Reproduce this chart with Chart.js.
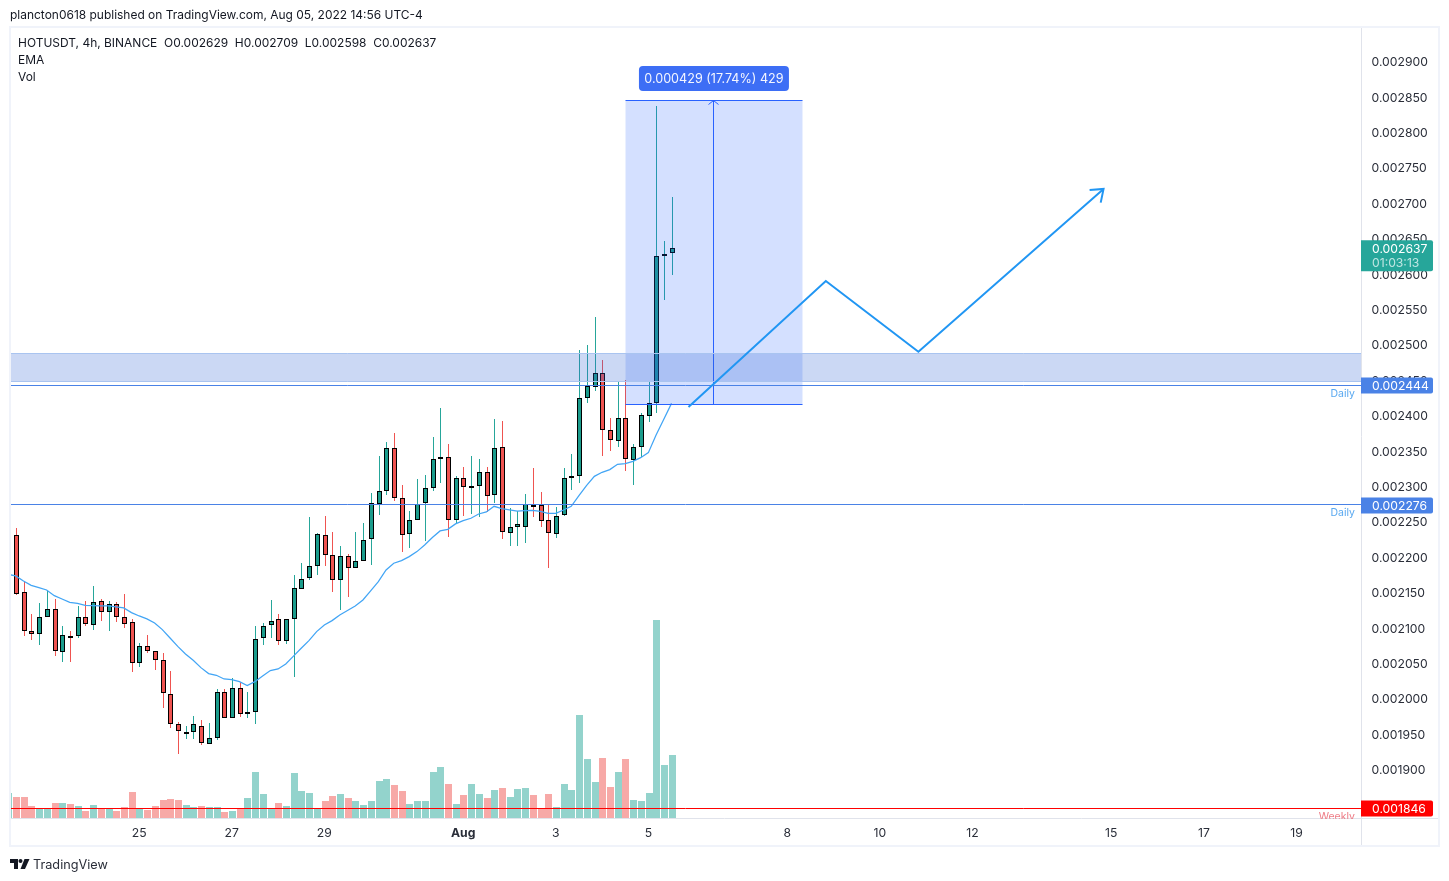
<!DOCTYPE html>
<html><head><meta charset="utf-8">
<script src="https://cdn.jsdelivr.net/npm/chart.js@4"></script>
<style>
html,body{margin:0;padding:0;background:#fff;width:1449px;height:881px;overflow:hidden}
#c{position:absolute;left:0;top:0}
.t{position:absolute;font-family:Inter,sans-serif;color:#131722;white-space:pre;line-height:16px}
#frame{position:absolute;left:9px;top:26px;width:1431px;height:821px;box-sizing:border-box;border:2px solid #f0f3fa;pointer-events:none}
</style></head><body>
<canvas id="c" width="1449" height="881"></canvas>
<div id="frame"></div>
<div class="t" style="left:10px;top:7px;font-size:11.97px">plancton0618 published on TradingView.com, Aug 05, 2022 14:56 UTC-4</div>
<div class="t" style="left:18px;top:34.5px;font-size:11.97px">HOTUSDT, 4h, BINANCE  O0.002629  H0.002709  L0.002598  C0.002637</div>
<div class="t" style="left:18px;top:51.5px;font-size:11.97px">EMA</div>
<div class="t" style="left:18px;top:68.5px;font-size:11.97px">Vol</div>
<svg style="position:absolute;left:10px;top:859px" width="20" height="11" viewBox="0 0 20 11"><path d="M0 0H8V10H4V4H0Z" fill="#131722"/><circle cx="10.5" cy="2" r="2" fill="#131722"/><path d="M14.5 0H19.5L15 10H10.5Z" fill="#131722"/></svg>
<div class="t" style="left:33px;top:857px;font-size:12.7px;color:#2a2e39">TradingView</div>
<script>
// Prices are in millionths of USDT (2637 = 0.002637). Index 0 is the partly visible first bar.
const opens  = [2187,2231,2150,2095,2092,2116,2126,2066,2088,2088,2116,2104,2138,2123,2133,2116,2108,2050,2074,2067,2054,2006,1964,1952,1953,1961,1936,1945,2010,1972,2015,1980,1981,2085,2104,2112,2081,2112,2155,2171,2188,2231,2203,2167,2201,2184,2195,2225,2275,2294,2354,2284,2232,2253,2276,2297,2338,2341,2253,2311,2300,2301,2320,2287,2355,2234,2243,2243,2273,2273,2252,2232,2260,2311,2315,2424,2440,2460,2379,2364,2397,2337,2355,2399,2417,2625,2629];
const highs  = [2231,2241,2166,2120,2135,2152,2141,2103,2096,2131,2138,2159,2141,2138,2137,2148,2112,2078,2090,2068,2065,2039,1967,1962,1976,1970,1966,2013,2013,2029,2024,2009,2102,2107,2139,2119,2112,2174,2191,2257,2234,2258,2236,2216,2205,2236,2248,2291,2343,2363,2375,2302,2265,2310,2316,2370,2411,2360,2315,2327,2343,2339,2327,2395,2392,2269,2265,2289,2326,2292,2275,2271,2326,2346,2493,2500,2539,2478,2396,2449,2450,2360,2403,2449,2837,2647,2709];
const lows   = [2187,2147,2089,2083,2076,2116,2060,2052,2052,2086,2103,2097,2110,2096,2108,2100,2038,2045,2065,2041,1987,1959,1922,1943,1943,1935,1936,1942,1972,1972,1974,1973,1964,2076,2086,2076,2077,2030,2155,2168,2175,2187,2151,2125,2144,2184,2195,2189,2260,2288,2279,2207,2213,2253,2223,2293,2305,2228,2246,2258,2261,2257,2263,2276,2226,2216,2216,2220,2257,2243,2185,2227,2258,2295,2305,2418,2435,2343,2350,2356,2322,2302,2341,2391,2404,2563,2598];
const closes = [2231,2148,2095,2092,2116,2126,2067,2090,2087,2116,2105,2136,2123,2133,2116,2106,2051,2074,2067,2054,2008,1964,1954,1953,1964,1938,1945,2009,1972,2015,1979,1981,2084,2102,2109,2081,2112,2156,2169,2188,2232,2203,2167,2201,2184,2195,2224,2276,2294,2354,2284,2231,2253,2275,2297,2338,2341,2253,2311,2299,2301,2320,2286,2354,2235,2243,2246,2275,2270,2251,2234,2258,2311,2314,2424,2441,2460,2379,2365,2396,2338,2355,2400,2417,2625,2628,2637];
const volumes = [25,21,21,12,9,9,15,15,14,12,7,13,10,10,7,11,26,10,8,12,18,19,18,13,11,12,11,11,6,7,10,20,46,24,10,15,12,45,27,25,10,17,22,24,20,17,13,17,37,39,33,27,14,17,17,46,51,34,14,23,34,24,20,28,30,21,29,30,23,10,24,11,34,28,103,59,36,60,31,46,59,18,17,25,198,53,63];
const ema = [2175.6,2173.3,2166.2,2160.1,2156.8,2153.5,2145.5,2140.8,2136.1,2134.7,2131.9,2131.4,2130.9,2130.9,2129.5,2128.1,2121.5,2116.8,2112.6,2106.9,2097.5,2085.7,2073.9,2063.1,2054.2,2043.8,2035.4,2033,2027.8,2026.8,2024,2018.4,2024,2032,2039.6,2041.9,2049,2060,2071.2,2082,2094.7,2104.1,2110.2,2118.2,2124.4,2130.9,2139.4,2152.1,2165.3,2181.8,2191.2,2195,2200.6,2207.7,2217.1,2227.5,2236.9,2239.2,2246.8,2251.5,2254.8,2260.8,2263.7,2271.7,2268.4,2266.5,2265,2265.6,2266,2264.6,2261.8,2261.8,2266.5,2271.7,2286.7,2301.3,2314,2319.7,2323.5,2331,2331.9,2335.2,2340.4,2347.5,2372.4,2394.6,2417.1];
const firstBar = -1;
const xTickValues = [16,28,40,58,70,82,100,112,124,142,154,166];
const xTickLabels = ['25','27','29','Aug','3','5','8','10','12','15','17','19'];
const handX = [87.2,105,117,141];
const handY = [2412,2590,2490,2720];
const zoneBand = [2448,2488];
const positionBox = {x:[79,102], y:[2415.5,2845], arrowX:90.5, text:'0.000429 (17.74%) 429'};
const levels = [
 {v:2443,text:'0.002444',tag:'#4a82e6',line:'#4a82e6',name:'Daily',nameColor:'#5aa9f0'},
 {v:2274,text:'0.002276',tag:'#4a82e6',line:'#4a82e6',name:'Daily',nameColor:'#5aa9f0'},
 {v:1845,text:'0.001846',tag:'#ff0000',line:'#ff0000',name:'Weekly',nameColor:'#ee7b85'}
];
const lastPrice = {v:2637,text:'0.002637',sub:'01:03:13'};
const hiddenTicks = [1850];

const UP='#26a69a', UPBODY='#1b9c8c', DN='#ef5350';
const isUp = i => closes[i]>=opens[i];
const xs = opens.map((_,i)=>i+firstBar);
const FONT='Inter, sans-serif';

const snap = {
 id:'snap',
 afterDatasetsUpdate(chart){
  chart.data.datasets.forEach((ds,di)=>{
   if((ds.type||'bar')!=='bar')return;
   chart.getDatasetMeta(di).data.forEach(el=>{
    el.x=Math.floor(el.x+.7)+.5;
    el.y=Math.round(el.y); el.base=Math.round(el.base);
    if(ds.label==='Vol'){el.y-=1;el.base-=1;}
    if(ds.label==='Body'&&Math.abs(el.base-el.y)<2){el.y=Math.min(el.y,el.base);el.base=el.y+2;}
   });
  });
 }
};
const crisp=v=>Math.round(v-.5)+.5;
const overlay = {
 id:'overlay',
 beforeDraw(chart){
  const c=chart.ctx,a=chart.chartArea;
  c.save();c.strokeStyle='#e0e3eb';c.lineWidth=1;c.beginPath();
  c.moveTo(a.right+.5,a.top);c.lineTo(a.right+.5,846);
  c.moveTo(10,a.bottom-.5);c.lineTo(1439,a.bottom-.5);c.stroke();c.restore();
 },
 afterDatasetDraw(chart,args){
  if(chart.data.datasets[args.index].label!=='EMA')return;
  const c=chart.ctx,a=chart.chartArea,X=chart.scales.x,Y=chart.scales.y;
  c.save();c.beginPath();c.rect(a.left,a.top,a.width,a.height);c.clip();
  const bl=crisp(X.getPixelForValue(positionBox.x[0])),br=crisp(X.getPixelForValue(positionBox.x[1]));
  const bt=crisp(Y.getPixelForValue(positionBox.y[1])),bb=crisp(Y.getPixelForValue(positionBox.y[0]));
  c.fillStyle='rgba(41,98,255,0.2)';c.fillRect(bl,bt,br-bl,bb-bt);
  c.strokeStyle='#2962ff';c.lineWidth=1;c.beginPath();
  c.moveTo(bl,bt);c.lineTo(br,bt);c.moveTo(bl,bb);c.lineTo(br,bb);
  const ax=crisp(X.getPixelForValue(positionBox.arrowX));
  c.moveTo(ax,bb);c.lineTo(ax,bt);c.stroke();
  c.beginPath();c.moveTo(ax-5,bt+4);c.lineTo(ax,bt);c.lineTo(ax+5,bt+4);c.stroke();
  const zt=crisp(Y.getPixelForValue(zoneBand[1])),zb=crisp(Y.getPixelForValue(zoneBand[0]));
  c.fillStyle='rgba(48,100,210,0.25)';c.fillRect(a.left,zt,a.width,zb-zt);
  c.strokeStyle='#a9c4f0';c.beginPath();c.moveTo(a.left,zt);c.lineTo(a.right,zt);c.moveTo(a.left,zb);c.lineTo(a.right,zb);c.stroke();
  levels.forEach(l=>{
   const y=crisp(Y.getPixelForValue(l.v));
   c.strokeStyle=l.line;c.beginPath();c.moveTo(a.left,y);c.lineTo(a.right,y);c.stroke();
   c.fillStyle=l.nameColor;c.font='10.5px '+FONT;c.textAlign='right';c.textBaseline='middle';
   c.fillText(l.name,1355,y+8.5);
  });
  c.restore();
 },
 afterDraw(chart){
  const c=chart.ctx,a=chart.chartArea,X=chart.scales.x,Y=chart.scales.y;
  c.save();
  const n=handX.length-1;
  const px=X.getPixelForValue(handX[n]),py=Y.getPixelForValue(handY[n]);
  const qx=X.getPixelForValue(handX[n-1]),qy=Y.getPixelForValue(handY[n-1]);
  const th=Math.atan2(qy-py,qx-px),d=37*Math.PI/180,len=14;
  c.strokeStyle='#2196f3';c.lineWidth=2;c.beginPath();
  c.moveTo(px+len*Math.cos(th+d),py+len*Math.sin(th+d));c.lineTo(px,py);
  c.lineTo(px+len*Math.cos(th-d),py+len*Math.sin(th-d));c.stroke();
  const ax=X.getPixelForValue(positionBox.arrowX),by=Y.getPixelForValue(positionBox.y[1]);
  c.fillStyle='#3d6ef5';c.beginPath();c.roundRect(ax-75,by-34.5,150,25,4);c.fill();
  c.fillStyle='#f4f6ff';c.font='12.6px '+FONT;c.textAlign='center';c.textBaseline='middle';
  c.fillText(positionBox.text,ax,by-21.5);
  c.textAlign='left';
  levels.forEach(l=>{
   const y=Math.round(Y.getPixelForValue(l.v))+.5;
   c.fillStyle=l.tag;c.beginPath();c.roundRect(a.right,y-8,72,16,[0,2,2,0]);c.fill();
   c.fillStyle='#fff';c.font='12.2px '+FONT;c.fillText(l.text,1372,y+.5);
  });
  const y=Y.getPixelForValue(lastPrice.v);
  c.fillStyle='#26a69a';c.beginPath();c.roundRect(a.right,y-7.5,72,31,[0,2,2,0]);c.fill();
  c.fillStyle='#fff';c.font='12.2px '+FONT;c.fillText(lastPrice.text,1372,y+1.5);
  c.fillStyle='#bfe6e2';c.fillText(lastPrice.sub,1372,y+15.5);
  c.restore();
 }
};

new Chart(document.getElementById('c'),{
 type:'bar',
 data:{datasets:[
  {type:'line',label:'Hand',order:0,data:handX.map((x,i)=>({x,y:handY[i]})),borderColor:'#2196f3',borderWidth:2,pointRadius:0,tension:0},
  {type:'line',label:'EMA',order:1,data:xs.map((x,i)=>({x,y:ema[i]})),borderColor:'#42a5f5',borderWidth:1.25,pointRadius:0,tension:0},
  {label:'Body',order:2,grouped:false,barThickness:5,data:xs.map((x,i)=>({x,y:[opens[i],closes[i]]})),
   backgroundColor:xs.map((_,i)=>isUp(i)?UPBODY:DN),borderColor:'#000',borderWidth:1,borderSkipped:false,inflateAmount:0},
  {label:'Wick',order:3,grouped:false,barThickness:1,data:xs.map((x,i)=>({x,y:[lows[i],highs[i]]})),
   backgroundColor:xs.map((_,i)=>isUp(i)?UP:DN),borderWidth:0,inflateAmount:0},
  {label:'Vol',order:4,grouped:false,barThickness:7,yAxisID:'yVol',data:xs.map((x,i)=>({x,y:volumes[i]})),
   backgroundColor:xs.map((_,i)=>isUp(i)?'#93d3cc':'#f7a9a7'),borderWidth:0,inflateAmount:0}
 ]},
 options:{
  responsive:false,animation:false,devicePixelRatio:1,
  layout:{padding:{top:27,left:10,right:10,bottom:35}},
  plugins:{legend:{display:false},tooltip:{enabled:false}},
  scales:{
   x:{type:'linear',position:'bottom',offset:false,min:-0.745,max:174.37,grid:{display:false,drawTicks:false},border:{display:false},
    afterBuildTicks:s=>{s.ticks=xTickValues.map(v=>({value:v}));},
    afterFit:s=>{s.height=27;},
    ticks:{autoSkip:false,maxRotation:0,padding:7,color:'#2a2e39',
     font:ctx=>({family:FONT,size:12.2,weight:xTickLabels[ctx.index]==='Aug'?'bold':'normal'}),
     callback:(v,i)=>xTickLabels[i]}},
   y:{type:'linear',position:'right',min:1830,max:2948.7,grid:{display:false,drawTicks:false},border:{display:false},
    afterFit:s=>{s.width=78;},
    ticks:{stepSize:50,includeBounds:false,autoSkip:false,padding:10.5,labelOffset:1,color:'#2a2e39',font:{family:FONT,size:12.2},
     callback:v=>hiddenTicks.includes(v)?'':(v/1e6).toFixed(6)}},
   yVol:{type:'linear',display:false,position:'left',min:0,max:792}
  }
 },
 plugins:[snap,overlay]
});
</script>
</body></html>
